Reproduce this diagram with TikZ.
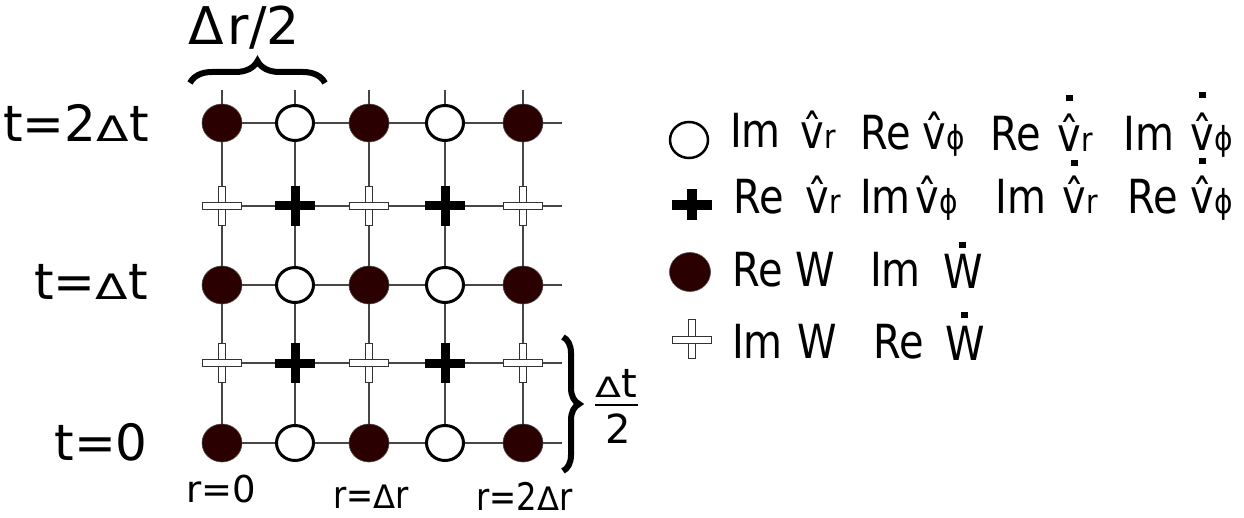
\documentclass[tikz,border=0pt]{standalone}
\usepackage{fontspec}
\usepackage{graphicx}
\setmainfont{DejaVu Sans}
\newfontfamily\legf[FakeStretch=0.85]{DejaVu Sans}
\usetikzlibrary{shapes.geometric,decorations.pathreplacing}
\definecolor{dotbrown}{RGB}{42,0,0}
\definecolor{gridgray}{RGB}{70,70,70}
\newcommand\tri{\scalebox{0.95}[0.7]{Δ}}
\newcommand\rtri{\scalebox{1.0}[0.85]{Δ}}
\begin{document}
\begin{tikzpicture}[x=1pt,y=-1pt,
  gline/.style={draw=gridgray,line width=1.1pt},
  fullc/.style={ellipse,fill=dotbrown,draw=black!70,line width=0.6pt,minimum width=40pt,minimum height=38pt,inner sep=0pt},
  openc/.style={ellipse,fill=white,draw=black,line width=3pt,minimum width=37pt,minimum height=35pt,inner sep=0pt},
  bbarh/.style={rectangle,fill=black,minimum width=40pt,minimum height=9pt,inner sep=0pt},
  bbarv/.style={rectangle,fill=black,minimum width=9pt,minimum height=40pt,inner sep=0pt},
  wbarh/.style={rectangle,fill=white,draw=black!80,line width=1pt,minimum width=39pt,minimum height=7pt,inner sep=0pt},
  wbarv/.style={rectangle,fill=white,draw=black!80,line width=1pt,minimum width=7pt,minimum height=39pt,inner sep=0pt},
  lt/.style={inner sep=0pt,anchor=base west,font=\legf\fontsize{47}{50}\selectfont},
  st/.style={inner sep=0pt,anchor=base west,font=\legf\fontsize{33}{36}\selectfont},
  tl/.style={inner sep=0pt,font=\fontsize{50}{54}\selectfont,anchor=base east},
  rl/.style={inner sep=0pt,font=\fontsize{37}{40}\selectfont,anchor=base west},
  rln/.style={inner sep=0pt,font=\legf\fontsize{38}{40}\selectfont,anchor=base west},
  brc/.style={decorate,line width=6pt},
  sqdot/.style={fill=black}
]
\useasboundingbox (0,0) rectangle (1244,518);
% grid coordinates
\foreach \x [count=\i] in {222,295,369,445,523}{
  \coordinate (top\i) at (\x,90);
  \foreach \y [count=\j] in {123,206,285,363,443}{
    \coordinate (g\i\j) at (\x,\y);
  }
}
\foreach \y [count=\j] in {123,206,285,363,443}{
  \coordinate (end\j) at (562,\y);
}
% grid lines
\foreach \i in {1,...,5}{ \draw[gline] (top\i) -- (g\i5); }
\foreach \j in {1,...,5}{ \draw[gline] (g1\j) -- (end\j); }
% grid markers
\foreach \j in {1,3,5}{
  \foreach \i in {1,3,5}{ \node[fullc] (n\i\j) at (g\i\j) {}; }
  \foreach \i in {2,4}{ \node[openc] (n\i\j) at (g\i\j) {}; }
}
\foreach \j in {2,4}{
  \foreach \i in {1,3,5}{ \node[wbarv] (n\i\j) at (g\i\j) {}; \node[wbarh] (h\i\j) at (g\i\j) {}; }
  \foreach \i in {2,4}{ \node[bbarv] (n\i\j) at (g\i\j) {}; \node[bbarh] (h\i\j) at (g\i\j) {}; }
}
% time labels
\node[tl] (t2) at (149,142) {t=2\tri t};
\node[tl] (t1) at (148,300) {t=\tri t};
\node[tl] (t0) at (148,460) {t=0};
% r labels
\node[rl] (r0) at (186,502) {r=0};
\node[rln] (r1) at (333,508) {r=\rtri r};
\node[rln] (r2) at (476,510) {r=2\rtri r};
% top brace
\node[inner sep=0pt,anchor=base west,font=\fontsize{52}{56}\selectfont] (dr) at (188,45) {Δ\hspace{4pt}r/2};
\coordinate (bA) at (190,83);
\coordinate (bB) at (325,83);
\draw[brc,decoration={brace,amplitude=22pt}] (bA) -- (bB);
% right brace
\coordinate (bC) at (563,337);
\coordinate (bD) at (563,471);
\draw[brc,decoration={brace,amplitude=16pt}] (bC) -- (bD);
\node[inner sep=0pt,anchor=base,font=\fontsize{40}{44}\selectfont] (fnum) at (616,397) {\tri t};
\node[inner sep=0pt,anchor=base,font=\fontsize{40}{44}\selectfont] (fden) at (618,443) {2};
\coordinate (fl) at (595,405);
\coordinate (fr) at (638,405);
\draw[line width=2pt] (fl) -- (fr);
% legend symbols
\node[openc,minimum width=38pt,minimum height=36pt,line width=2.5pt] (L1) at (689,140) {};
\node[bbarv,minimum width=10pt,minimum height=31pt] (L2) at (692,205) {};
\node[bbarh,minimum height=10pt] (L2h) at (692,205) {};
\node[fullc,minimum width=41pt,minimum height=39pt] (L3) at (690,272) {};
\node[wbarv] (L4) at (692,339) {};
\node[wbarh] (L4h) at (692,340) {};
% legend row 1
\node[lt] (a1) at (730,148) {Im};
\node[lt] (a2) at (800,149) {\^{v}}; \node[st] (a2s) at (a2.base east) {r};
\node[lt] (a3) at (860,150) {Re};
\node[lt] (a4) at (922,150) {\^{v}}; \node[st] (a4s) at (a4.base east) {ϕ};
\node[lt] (a5) at (990,151) {Re};
\node[lt] (a6) at (1057,152) {\^{v}}; \node[st] (a6s) at (a6.base east) {r};
\fill[sqdot] ([shift={(-3.5,-57)}]a6.base) rectangle ++(7,6);
\node[lt] (a7) at (1123,151) {Im};
\node[lt] (a8) at (1190,151) {\^{v}}; \node[st] (a8s) at (a8.base east) {ϕ};
\fill[sqdot] ([shift={(-3.5,-59)}]a8.base) rectangle ++(7,6);
% legend row 2
\node[lt] (b1) at (733,214) {Re};
\node[lt] (b2) at (805,214) {\^{v}}; \node[st] (b2s) at (b2.base east) {r};
\node[lt] (b3) at (860,214) {Im};
\node[lt] (b4) at (915,214) {\^{v}}; \node[st] (b4s) at (b4.base east) {ϕ};
\node[lt] (b5) at (995,214) {Im};
\node[lt] (b6) at (1062,214) {\^{v}}; \node[st] (b6s) at (b6.base east) {r};
\fill[sqdot] ([shift={(-3.5,-54)}]b6.base) rectangle ++(7,6);
\node[lt] (b7) at (1127,214) {Re};
\node[lt] (b8) at (1190,214) {\^{v}}; \node[st] (b8s) at (b8.base east) {ϕ};
\fill[sqdot] ([shift={(-3.5,-56)}]b8.base) rectangle ++(7,6);
% legend row 3
\node[lt] (c1) at (732,287) {Re};
\node[lt] (c2) at (795,287) {W};
\node[lt] (c3) at (870,287) {Im};
\node[lt] (c4) at (943,289) {W};
\fill[sqdot] ([shift={(-3.5,-47)}]c4.base) rectangle ++(7,6);
% legend row 4
\node[lt] (d1) at (732,358) {Im};
\node[lt] (d2) at (797,358) {W};
\node[lt] (d3) at (873,358) {Re};
\node[lt] (d4) at (945,360) {W};
\fill[sqdot] ([shift={(-3.5,-48)}]d4.base) rectangle ++(7,6);
\end{tikzpicture}
\end{document}
